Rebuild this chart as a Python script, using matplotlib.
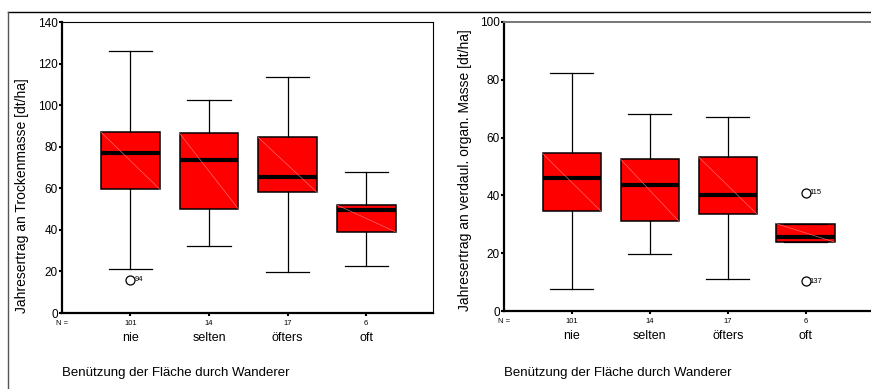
import matplotlib
matplotlib.use("Agg")
import matplotlib.pyplot as plt
from matplotlib.lines import Line2D

plt.rcParams['font.family'] = ['Liberation Sans', 'DejaVu Sans']

categories = ["nie", "selten", "öfters", "oft"]
n_values = [101, 14, 17, 6]
xlabel = "Benützung der Fläche durch Wanderer"

# left: Trockenmasse
tm_low = [21, 32, 19.6, 22.5]
tm_q1 = [59.5, 50, 58, 39]
tm_med = [77, 73.5, 65.5, 49.5]
tm_q3 = [87, 86.5, 84.5, 52]
tm_high = [126, 102.5, 113.5, 68]
tm_fliers = [[16], [], [], []]
tm_flier_ids = [["94"], [], [], []]

# right: verdauliche organische Masse
om_low = [7.5, 19.8, 11, 23.8]
om_q1 = [34.5, 31, 33.5, 23.8]
om_med = [46, 43.5, 40, 25.7]
om_q3 = [54.5, 52.5, 53.3, 30.2]
om_high = [82.5, 68, 67, 30.2]
om_fliers = [[], [], [], [41, 10.3]]
om_flier_ids = [[], [], [], ["115", "137"]]


def draw_panel(ax, low, q1, med, q3, high, fliers, ids, ymax, ylabel_txt, lab_x):
    pos = list(range(1, len(categories) + 1))
    stats = []
    for i in range(len(categories)):
        stats.append(dict(whislo=low[i], q1=q1[i], med=med[i], q3=q3[i],
                          whishi=high[i], fliers=fliers[i]))
    ax.bxp(stats, positions=pos, widths=0.75, capwidths=0.55, patch_artist=True,
           boxprops=dict(facecolor="#ff0000", edgecolor="black", linewidth=1.1),
           medianprops=dict(color="black", linewidth=3, solid_capstyle="butt"),
           whiskerprops=dict(color="black", linewidth=0.9),
           capprops=dict(color="black", linewidth=0.9),
           flierprops=dict(marker="o", markersize=6.5, markerfacecolor="white",
                           markeredgecolor="black", markeredgewidth=0.9))
    # faint diagonal seen inside the boxes
    for i, p in enumerate(pos):
        ax.plot([p - 0.375, p + 0.375], [q3[i], q1[i]], color="#ff8080",
                linewidth=0.4, zorder=3)
        for v, lab in zip(fliers[i], ids[i]):
            ax.annotate(lab, (p, v), xytext=(3, 0), textcoords="offset points",
                        fontsize=5.5, va="center", ha="left")
    ax.set_xlim(0.13, 4.85)
    ax.set_ylim(0, ymax)
    ax.set_xticks(pos)
    ax.set_xticklabels([])
    ax.tick_params(axis="both", length=2, width=1.5, direction="out",
                   labelsize=8.5, pad=1)
    for s in ["left", "bottom"]:
        ax.spines[s].set_linewidth(1.6)
    for i, p in enumerate(pos):
        ax.annotate(str(n_values[i]), (p, 0), xycoords=("data", "axes fraction"),
                    xytext=(0, -7.5), textcoords="offset points",
                    fontsize=5.5, ha="center", va="center")
        ax.annotate(categories[i], (p, 0), xycoords=("data", "axes fraction"),
                    xytext=(0, -18), textcoords="offset points",
                    fontsize=9, ha="center", va="center")
    ax.annotate("N =", (0, 0), xycoords="axes fraction", xytext=(0, -7.5),
                textcoords="offset points", fontsize=5.5, ha="center", va="center")
    pb = ax.get_position()
    fig.text(lab_x, pb.y0, ylabel_txt, rotation=90, fontsize=10,
             ha="center", va="bottom")
    fig.text(pb.x0, 1 - 373 / 389, xlabel, fontsize=9.5, ha="left", va="center")


fig = plt.figure(figsize=(8.71, 3.89), dpi=100)

ax1 = fig.add_axes([62 / 871, 1 - 313 / 389, (433 - 62) / 871, 291 / 389])
draw_panel(ax1, tm_low, tm_q1, tm_med, tm_q3, tm_high, tm_fliers, tm_flier_ids,
           140, "Jahresertrag an Trockenmasse [dt/ha]", 22 / 871)

ax2 = fig.add_axes([504 / 871, 1 - 311 / 389, (872 - 504) / 871, 289 / 389])
draw_panel(ax2, om_low, om_q1, om_med, om_q3, om_high, om_fliers, om_flier_ids,
           100, "Jahresertrag an verdaul. organ. Masse [dt/ha]", 465 / 871)
ax2.spines["top"].set_color("#777777")
ax2.spines["top"].set_linewidth(1.4)
ax2.spines["right"].set_visible(False)

# outer frame of the left panel
fig.add_artist(Line2D([8 / 871, 1], [1 - 12 / 389, 1 - 12 / 389],
                      transform=fig.transFigure, color="black", linewidth=1))
fig.add_artist(Line2D([8 / 871, 8 / 871], [0, 1 - 12 / 389],
                      transform=fig.transFigure, color="#555555", linewidth=1))

fig.savefig("out.png", dpi=100)
